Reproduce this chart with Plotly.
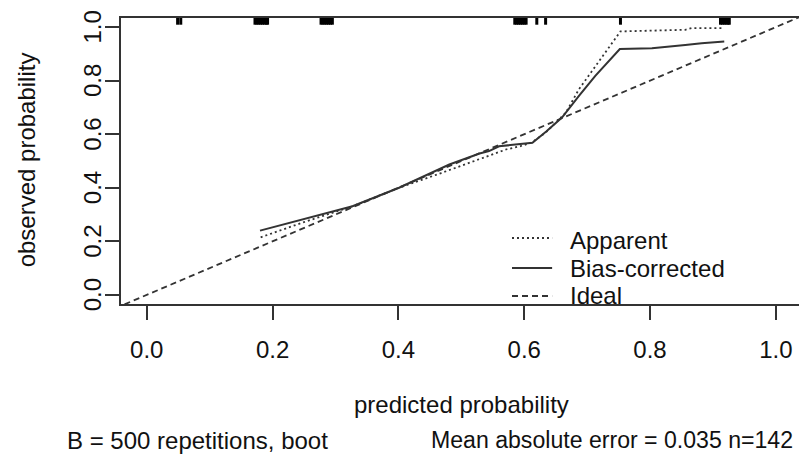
import plotly.graph_objects as go

# ---------------- data ----------------
pred_apparent = [0.181, 0.250, 0.327, 0.401, 0.468, 0.529, 0.571, 0.595, 0.612,
                 0.634, 0.666, 0.687, 0.718, 0.753, 0.856, 0.866, 0.918]
obs_apparent = [0.215, 0.272, 0.331, 0.400, 0.455, 0.506, 0.543, 0.556, 0.569,
                0.606, 0.680, 0.768, 0.868, 0.984, 0.990, 0.996, 0.996]

pred_bias = [0.180, 0.250, 0.327, 0.401, 0.481, 0.529, 0.544, 0.560, 0.590, 0.613,
             0.635, 0.660, 0.687, 0.713, 0.752, 0.803, 0.856, 0.882, 0.918]
obs_bias = [0.240, 0.283, 0.331, 0.400, 0.487, 0.528, 0.537, 0.555, 0.563, 0.568,
            0.610, 0.662, 0.743, 0.818, 0.918, 0.921, 0.933, 0.940, 0.946]

ideal_line = [-0.05, 1.05]

# distinct predicted probabilities shown in the rug along the top
rug_pred = [0.049, 0.054,
            0.172, 0.175, 0.178, 0.181, 0.184, 0.187, 0.190, 0.192,
            0.277, 0.280, 0.283, 0.286, 0.289, 0.292, 0.295,
            0.585, 0.588, 0.591, 0.594, 0.597, 0.600, 0.603,
            0.620, 0.634, 0.753,
            0.912, 0.915, 0.918, 0.921, 0.924, 0.926]

tick_vals = [0.0, 0.2, 0.4, 0.6, 0.8, 1.0]
tick_text = ["0.0", "0.2", "0.4", "0.6", "0.8", "1.0"]

legend_labels = ["Apparent", "Bias-corrected", "Ideal"]
x_title = "predicted probability"
y_title = "observed probability"
sub_left = "B = 500 repetitions, boot"
sub_right = "Mean absolute error = 0.035 n=142"

# ---------------- styling ----------------
FONT = "Liberation Sans, Arial, Helvetica, sans-serif"
LINE_COL = "#333333"
TXT_COL = "#111111"
DOT = "2px,3px"
DASH = "6px,4px"
FS = 24

fig = go.Figure()

fig.add_trace(go.Scatter(x=ideal_line, y=ideal_line, mode="lines",
                         line=dict(color=LINE_COL, width=1.8, dash=DASH),
                         name=legend_labels[2], showlegend=False))
fig.add_trace(go.Scatter(x=pred_apparent, y=obs_apparent, mode="lines",
                         line=dict(color=LINE_COL, width=1.8, dash=DOT),
                         name=legend_labels[0], showlegend=False))
fig.add_trace(go.Scatter(x=pred_bias, y=obs_bias, mode="lines",
                         line=dict(color=LINE_COL, width=2),
                         name=legend_labels[1], showlegend=False))

shapes = []
# rug on the top edge
for v in rug_pred:
    shapes.append(dict(type="line", xref="x", yref="paper", x0=v, x1=v,
                       y0=1.0, y1=1.0 - 6.7 / 285.7,
                       line=dict(color="#000000", width=3)))

# manual legend (R style)
leg_y = [0.231, 0.126, 0.028]
leg_dash = [DOT, "solid", DASH]
for yy, dd in zip(leg_y, leg_dash):
    shapes.append(dict(type="line", xref="paper", yref="paper",
                       x0=0.575, x1=0.634, y0=yy, y1=yy,
                       line=dict(color=LINE_COL, width=2, dash=dd)))

annotations = []
for yy, lab in zip([0.222, 0.124, 0.030], legend_labels):
    annotations.append(dict(text=lab, xref="paper", yref="paper", x=0.657, y=yy,
                            xanchor="left", yanchor="middle", showarrow=False,
                            font=dict(family=FONT, size=FS, color=TXT_COL)))

# rotated y tick labels (R style, parallel to the axis)
for v, t in zip(tick_vals, tick_text):
    annotations.append(dict(text=t, xref="paper", yref="y", x=-0.042, y=v,
                            xanchor="center", yanchor="middle", textangle=-90,
                            showarrow=False,
                            font=dict(family=FONT, size=FS, color=TXT_COL)))

annotations.append(dict(text=x_title, xref="paper", yref="paper", x=0.5, y=-0.353,
                        xanchor="center", yanchor="middle", showarrow=False,
                        font=dict(family=FONT, size=FS, color=TXT_COL)))
annotations.append(dict(text=y_title, xref="paper", yref="paper", x=-0.139, y=0.504,
                        xanchor="center", yanchor="middle", textangle=-90,
                        showarrow=False,
                        font=dict(family=FONT, size=FS, color=TXT_COL)))
annotations.append(dict(text=sub_left, xref="paper", yref="paper", x=-0.0817, y=-0.476,
                        xanchor="left", yanchor="middle", showarrow=False,
                        font=dict(family=FONT, size=FS, color=TXT_COL)))
annotations.append(dict(text=sub_right, xref="paper", yref="paper", x=0.4535, y=-0.476,
                        xanchor="left", yanchor="middle", showarrow=False,
                        font=dict(family=FONT, size=23.1, color=TXT_COL)))

axis_common = dict(showgrid=False, zeroline=False, showline=True, mirror=True,
                   linecolor=LINE_COL, linewidth=1.5, ticks="outside",
                   ticklen=14, tickwidth=1.5, tickcolor=LINE_COL,
                   tickvals=tick_vals, ticktext=tick_text,
                   tickfont=dict(family=FONT, size=FS, color=TXT_COL))

# the page body adds an 8px margin, so the figure is sized to fit the window
fig.update_layout(
    width=799, height=450,
    margin=dict(l=113, r=4, t=10, b=154),
    paper_bgcolor="white", plot_bgcolor="white",
    showlegend=False,
    shapes=shapes, annotations=annotations,
    xaxis=dict(range=[-0.041, 1.04], ticklabelstandoff=9, **axis_common),
    yaxis=dict(range=[-0.034, 1.034], showticklabels=False, **axis_common),
)

fig.write_html("out.html")
